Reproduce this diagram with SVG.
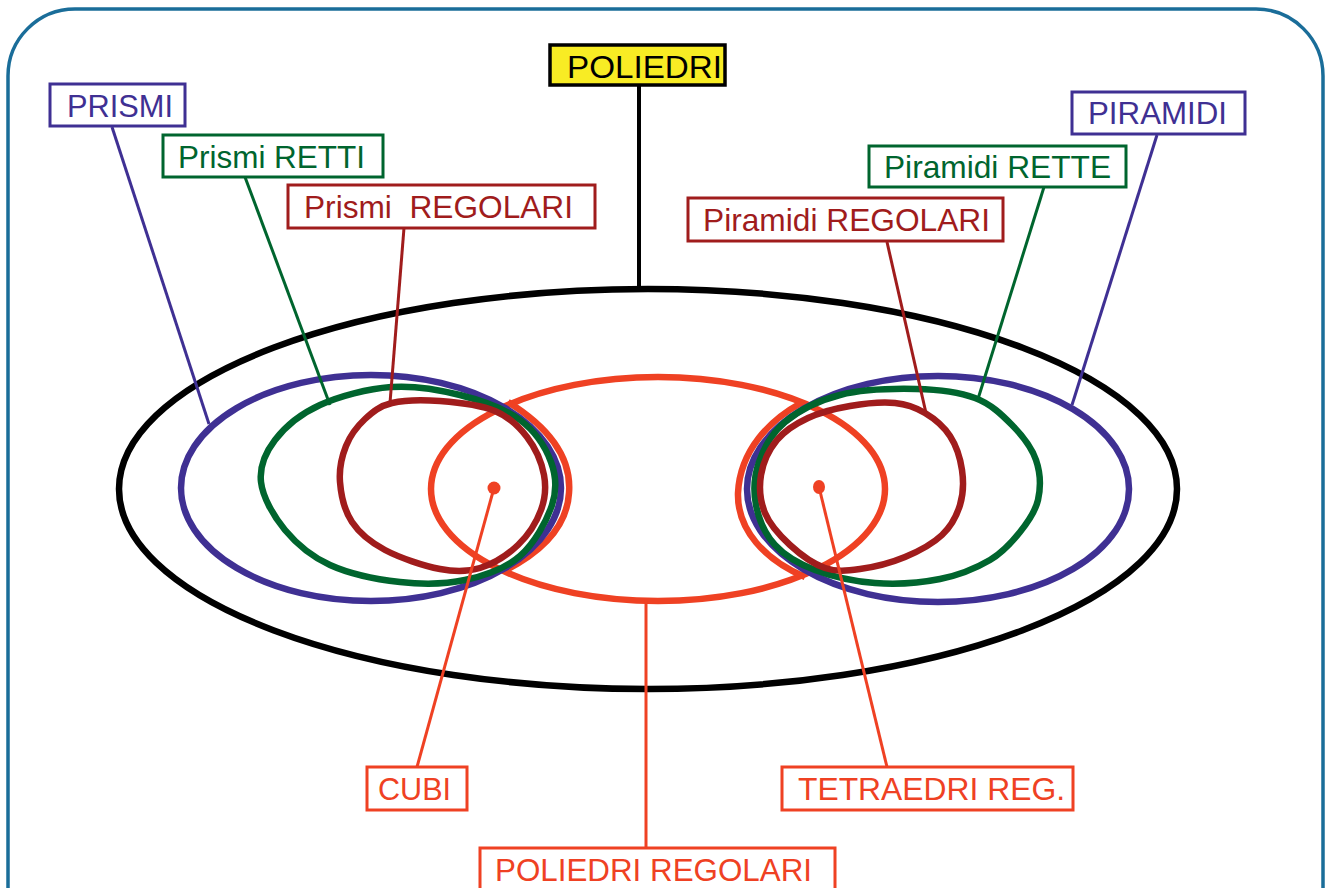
<svg xmlns="http://www.w3.org/2000/svg" width="1332" height="888" viewBox="0 0 1332 888">
<style>
text{font-family:"Liberation Sans",Arial,sans-serif;font-size:32px;text-anchor:middle}
.box{fill:#fff;stroke-width:3}
.pu{stroke:#3f3093}.gr{stroke:#00652e}.rd{stroke:#a01c1c}.or{stroke:#ef4123}
.tpu{fill:#3f3093}.tgr{fill:#00652e}.trd{fill:#a01c1c}.tor{fill:#ef4123}
.set{fill:none;stroke-width:6.5;stroke-linejoin:round}
.con{fill:none;stroke-width:3}
</style>
<rect width="1332" height="888" fill="#fff"/>
<path d="M8,892 V76 A67,67 0 0 1 75,9 H1256 A67,67 0 0 1 1323,76 V892" fill="none" stroke="#1a6d99" stroke-width="3.5"/>

<g id="sets">
<ellipse id="set-poliedri" cx="648" cy="489" rx="529" ry="200" class="set" stroke="#000" stroke-width="7"/>
<g id="set-poliedri-regolari">
<ellipse cx="658" cy="489" rx="227" ry="112" class="set or"/>
<path d="M508,402 C545,425 572,455 569,493 C567,525 545,550 506,570" class="set or"/>
<path d="M801,403 C770,420 740,450 738,493 C737,530 765,560 805,577" class="set or"/>
</g>
<ellipse id="set-prismi" cx="371" cy="488" rx="190" ry="113" class="set pu"/>
<path id="set-prismi-retti" class="set gr" d="M391,387 C414.3,385.3 438.5,389.5 460,395 C481.5,400.5 504.8,408.8 520,420 C535.2,431.2 545.7,447.8 551,462 C556.3,476.2 557.2,489.3 552,505 C546.8,520.7 534.5,543.5 520,556 C505.5,568.5 485,575.7 465,580 C445,584.3 422.5,584.5 400,582 C377.5,579.5 349.2,573.7 330,565 C310.8,556.3 296.5,543.8 285,530 C273.5,516.2 262.7,497 261,482 C259.3,467 265.2,452.8 275,440 C284.8,427.2 300.7,413.8 320,405 C339.3,396.2 367.7,388.7 391,387 Z"/>
<path id="set-prismi-regolari" class="set rd" d="M392,403 C404.5,400 422.8,399.7 440,401 C457.2,402.3 480.5,405 495,411 C509.5,417 518.8,426.3 527,437 C535.2,447.7 541.7,462.8 544,475 C546.3,487.2 545.3,498.3 541,510 C536.7,521.7 528.2,535.3 518,545 C507.8,554.7 493,564 480,568 C467,572 455.8,572 440,569 C424.2,566 399.7,557.8 385,550 C370.3,542.2 359.5,533.3 352,522 C344.5,510.7 341,494.7 340,482 C339,469.3 341.8,456.5 346,446 C350.2,435.5 357.3,426.2 365,419 C372.7,411.8 379.5,406 392,403 Z"/>
<ellipse id="set-piramidi" cx="938" cy="489" rx="191" ry="113" class="set pu"/>
<path id="set-piramidi-rette" class="set gr" d="M916,389 C938.5,389.5 959,392 975,398 C991,404 1001.8,414.7 1012,425 C1022.2,435.3 1031.7,447.5 1036,460 C1040.3,472.5 1040.7,488 1038,500 C1035.3,512 1028,522 1020,532 C1012,542 1003.3,552.2 990,560 C976.7,567.8 959.2,575.2 940,579 C920.8,582.8 895.8,584.5 875,583 C854.2,581.5 831.7,576.3 815,570 C798.3,563.7 784.8,555.8 775,545 C765.2,534.2 758.7,518.8 756,505 C753.3,491.2 754.2,475.8 759,462 C763.8,448.2 771.5,433.2 785,422 C798.5,410.8 818.2,400.5 840,395 C861.8,389.5 893.5,388.5 916,389 Z"/>
<path id="set-piramidi-regolari" class="set rd" d="M925,413 C934.2,418.5 943.8,426.5 950,436 C956.2,445.5 960.3,458.5 962,470 C963.7,481.5 963.3,494.2 960,505 C956.7,515.8 951.2,526.3 942,535 C932.8,543.7 918.7,551.3 905,557 C891.3,562.7 873.3,567.2 860,569 C846.7,570.8 836.7,572 825,568 C813.3,564 800,554.2 790,545 C780,535.8 769.8,524.7 765,513 C760.2,501.3 759,487.2 761,475 C763,462.8 769.2,449.5 777,440 C784.8,430.5 795.8,423.7 808,418 C820.2,412.3 835.5,408.5 850,406 C864.5,403.5 882.5,401.8 895,403 C907.5,404.2 915.8,407.5 925,413 Z"/>
</g>

<g id="connectors">
<line x1="639" y1="85" x2="639" y2="289" stroke="#000" stroke-width="4"/>
<line x1="112" y1="127" x2="209" y2="424" class="con pu"/>
<line x1="245" y1="177" x2="330" y2="405" class="con gr"/>
<line x1="404" y1="228" x2="390" y2="403" class="con rd"/>
<line x1="1157" y1="135" x2="1072" y2="405" class="con pu"/>
<line x1="1044" y1="187" x2="978" y2="399" class="con gr"/>
<line x1="887" y1="242" x2="926" y2="413" class="con rd"/>
<line x1="417" y1="767" x2="494" y2="488" class="con or"/>
<circle cx="494" cy="488" r="6.5" fill="#ef4123"/>
<line x1="887" y1="767" x2="819" y2="487" class="con or"/>
<ellipse cx="819" cy="487" rx="6" ry="7" fill="#ef4123"/>
<line x1="646" y1="601" x2="646" y2="848" class="con or"/>
</g>

<g id="node-poliedri">
<rect x="550" y="45" width="175" height="40" fill="#f8ec24" stroke="#000" stroke-width="3.5"/>
<text x="644.5" y="78" fill="#000" textLength="155" lengthAdjust="spacingAndGlyphs">POLIEDRI</text>
</g>
<g id="node-prismi">
<rect x="50" y="84" width="135" height="42" class="box pu"/>
<text x="120" y="117" class="tpu" textLength="106" lengthAdjust="spacingAndGlyphs">PRISMI</text>
</g>
<g id="node-prismi-retti">
<rect x="163" y="135" width="220" height="42" class="box gr"/>
<text x="271.5" y="168" class="tgr" textLength="187" lengthAdjust="spacingAndGlyphs">Prismi RETTI</text>
</g>
<g id="node-prismi-regolari">
<rect x="288" y="185" width="307" height="43" class="box rd"/>
<text x="438.5" y="218" class="trd" xml:space="preserve" textLength="269" lengthAdjust="spacingAndGlyphs">Prismi  REGOLARI</text>
</g>
<g id="node-piramidi">
<rect x="1072" y="92" width="173" height="42" class="box pu"/>
<text x="1157.5" y="124" class="tpu" textLength="139" lengthAdjust="spacingAndGlyphs">PIRAMIDI</text>
</g>
<g id="node-piramidi-rette">
<rect x="869" y="146" width="257" height="41" class="box gr"/>
<text x="997.5" y="178" class="tgr" textLength="227" lengthAdjust="spacingAndGlyphs">Piramidi RETTE</text>
</g>
<g id="node-piramidi-regolari">
<rect x="688" y="198" width="315" height="43" class="box rd"/>
<text x="846.5" y="231" class="trd" textLength="287" lengthAdjust="spacingAndGlyphs">Piramidi REGOLARI</text>
</g>
<g id="node-cubi">
<rect x="367" y="767" width="100" height="43" class="box or"/>
<text x="414.5" y="800" class="tor" textLength="73" lengthAdjust="spacingAndGlyphs">CUBI</text>
</g>
<g id="node-tetraedri">
<rect x="782" y="767" width="291" height="43" class="box or"/>
<text x="931.5" y="800" class="tor" textLength="267" lengthAdjust="spacingAndGlyphs">TETRAEDRI REG.</text>
</g>
<g id="node-poliedri-regolari">
<rect x="480" y="848" width="355" height="60" class="box or"/>
<text x="653.5" y="881" class="tor" textLength="317" lengthAdjust="spacingAndGlyphs">POLIEDRI REGOLARI</text>
</g>
</svg>
